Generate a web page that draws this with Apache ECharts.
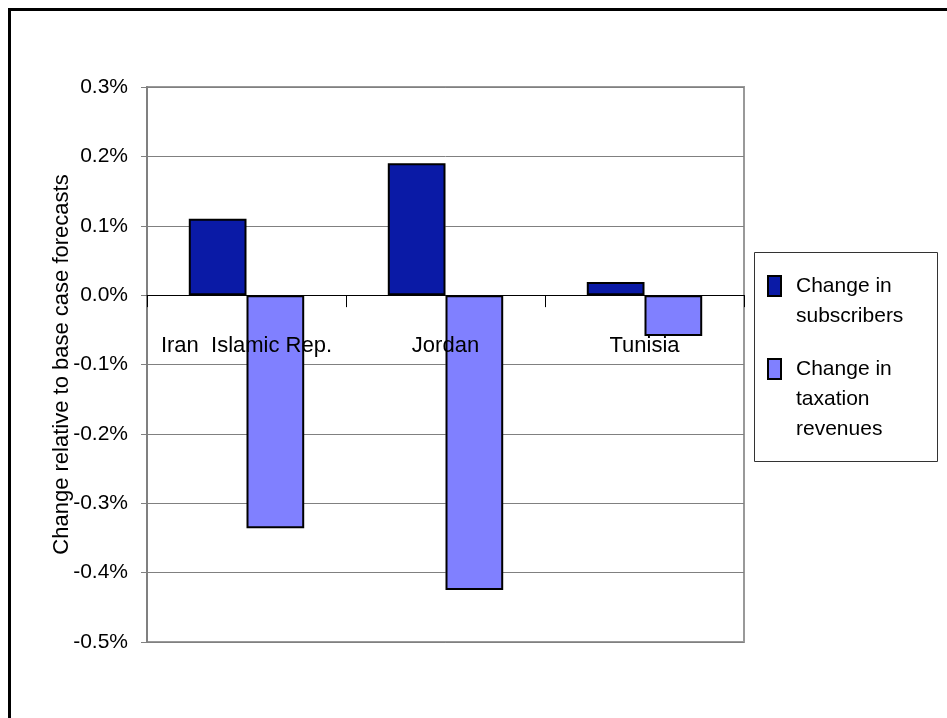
<!DOCTYPE html>
<html>
<head>
<meta charset="utf-8">
<script src="https://cdn.jsdelivr.net/npm/echarts@6/dist/echarts.min.js"></script>
<style>html,body{margin:0;padding:0;background:#fff}#c{width:947px;height:718px}</style>
</head>
<body>
<div id="c"></div>
<script>
const categories = ['Iran  Islamic Rep.', 'Jordan', 'Tunisia'];
const subscribers = [0.11, 0.19, 0.019];
const taxation = [-0.336, -0.425, -0.059];
const seriesNames = ['Change in subscribers', 'Change in taxation revenues'];
const legendLabels = ['\nChange in\nsubscribers', '\n\nChange in\ntaxation\nrevenues'];
const yMin = -0.5, yMax = 0.3, yStep = 0.1;
const yTitle = 'Change relative to base case forecasts';

const FONT = '"Liberation Sans", Arial, sans-serif';
const chart = echarts.init(document.getElementById('c'), null, {renderer: 'canvas'});

function legendFor(i, top) {
  return {
    data: [seriesNames[i]],
    left: 767, top: top, padding: 0,
    orient: 'vertical',
    itemWidth: 13, itemHeight: 20,
    icon: 'rect',
    itemStyle: {borderColor: '#000', borderWidth: 2},
    formatter: () => legendLabels[i],
    textStyle: {fontFamily: FONT, fontSize: 21, color: '#000', lineHeight: 30, padding: [0, 0, 0, 10]},
    selectedMode: false
  };
}

chart.setOption({
  animation: false,
  backgroundColor: '#fff',
  graphic: [
    {type: 'rect', shape: {x: 9.5, y: 9.5, width: 1000, height: 800}, style: {fill: 'none', stroke: '#000', lineWidth: 3}, silent: true},
    {type: 'rect', shape: {x: 754.5, y: 252.5, width: 183, height: 209}, style: {fill: '#fff', stroke: '#333', lineWidth: 1}, silent: true, z: 0}
  ],
  legend: [legendFor(0, 241), legendFor(1, 294)],
  grid: {left: 147, right: 203, top: 87, bottom: 76, show: true, borderColor: '#999', borderWidth: 2, backgroundColor: '#fff'},
  xAxis: {
    type: 'category',
    data: categories,
    z: 10,
    axisLine: {onZero: true, lineStyle: {color: '#000', width: 1}},
    axisTick: {show: true, length: 12, interval: 0, lineStyle: {color: '#000'}},
    axisLabel: {margin: -307, interval: 0, color: '#000', fontFamily: FONT, fontSize: 22},
    splitLine: {show: false}
  },
  yAxis: {
    type: 'value',
    min: yMin, max: yMax, interval: yStep,
    name: yTitle,
    nameLocation: 'middle',
    nameRotate: 90,
    nameGap: 74,
    nameMoveOverlap: false,
    nameTextStyle: {color: '#000', fontFamily: FONT, fontSize: 22},
    axisLine: {show: true, lineStyle: {color: '#808080', width: 2}},
    axisTick: {show: true, length: 6, lineStyle: {color: '#808080'}},
    axisLabel: {margin: 19, color: '#000', fontFamily: FONT, fontSize: 21, formatter: v => v.toFixed(1) + '%'},
    splitLine: {show: true, lineStyle: {color: '#808080', width: 1}}
  },
  series: [
    {name: seriesNames[0], type: 'bar', data: subscribers, barGap: '0%', barCategoryGap: '42%',
     itemStyle: {color: '#0A1AA6', borderColor: '#000', borderWidth: 2}},
    {name: seriesNames[1], type: 'bar', data: taxation, barGap: '0%', barCategoryGap: '42%',
     itemStyle: {color: '#8080FF', borderColor: '#000', borderWidth: 2}}
  ]
});
</script>
</body>
</html>
